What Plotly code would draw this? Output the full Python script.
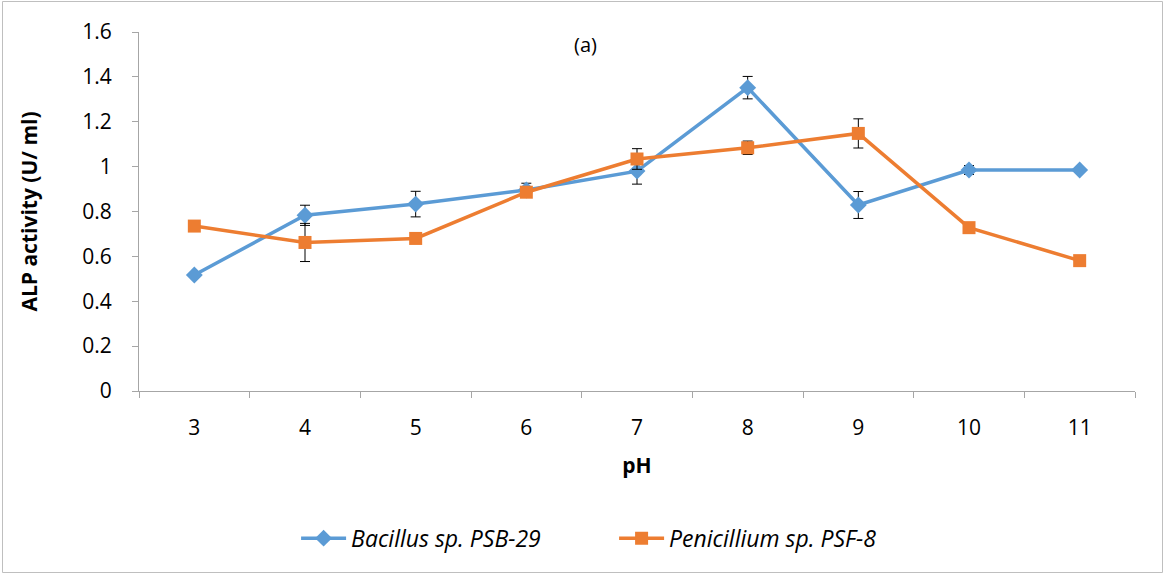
import plotly.graph_objects as go

ph = ["3", "4", "5", "6", "7", "8", "9", "10", "11"]
bacillus = [0.517, 0.783, 0.833, 0.896, 0.980, 1.352, 0.829, 0.985, 0.985]
bacillus_err = [0.010, 0.045, 0.057, 0.030, 0.058, 0.050, 0.060, 0.020, 0.010]
penicillium = [0.735, 0.662, 0.680, 0.886, 1.034, 1.084, 1.148, 0.728, 0.581]
penicillium_err = [0.000, 0.085, 0.000, 0.000, 0.046, 0.030, 0.065, 0.000, 0.000]
y_ticks = [0, 0.2, 0.4, 0.6, 0.8, 1, 1.2, 1.4, 1.6]
y_tick_text = ["0", "0.2", "0.4", "0.6", "0.8", "1", "1.2", "1.4", "1.6"]

FONT = "Open Sans"
FS = 21

fig = go.Figure()
fig.add_trace(go.Scatter(
    x=ph, y=bacillus, name="<i>Bacillus sp. PSB-29</i>", mode="lines+markers",
    line=dict(color="#5B9BD5", width=3.5),
    marker=dict(symbol="diamond", size=13, color="#5B9BD5"),
    error_y=dict(type="data", array=bacillus_err, color="black", thickness=1, width=5),
))
fig.add_trace(go.Scatter(
    x=ph, y=penicillium, name="<i>Penicillium sp. PSF-8</i>", mode="lines+markers",
    line=dict(color="#ED7D31", width=3.5),
    marker=dict(symbol="square", size=13, color="#ED7D31"),
    error_y=dict(type="data", array=penicillium_err, color="black", thickness=1, width=5),
))

fig.update_layout(
    width=1165, height=575,
    margin=dict(l=139, r=30, t=32, b=184),
    paper_bgcolor="white", plot_bgcolor="white",
    font=dict(family=FONT, size=FS, color="black"),
    showlegend=True,
    legend=dict(orientation="h", x=0.477, xanchor="center", y=-0.41, yanchor="middle",
                font=dict(family=FONT, size=23, color="black"), itemwidth=45,
                entrywidth=258, tracegroupgap=0, bgcolor="rgba(0,0,0,0)"),
    annotations=[dict(text="(a)", x=0.448, xref="paper", y=1.6, yref="y", yshift=-12,
                      showarrow=False, font=dict(family=FONT, size=FS - 1, color="black"))],
    shapes=[dict(type="rect", xref="paper", yref="paper",
                 x0=-136.5 / 996, x1=1 + 27.5 / 996, y0=-181.5 / 359, y1=1 + 30.5 / 359,
                 line=dict(color="#BFBFBF", width=1))],
)
fig.update_xaxes(
    type="category", range=[-0.5, 8.5], tickson="boundaries", ticks="outside",
    ticklen=6, tickcolor="#A6A6A6", showline=True, linecolor="#A6A6A6", linewidth=1,
    showgrid=False, zeroline=False, ticklabelstandoff=18,
    title=dict(text="<b>pH</b>", font=dict(family=FONT, size=FS), standoff=18),
    tickfont=dict(family=FONT, size=FS),
)
fig.update_yaxes(
    range=[0, 1.6], tickvals=y_ticks, ticktext=y_tick_text, ticks="outside",
    ticklen=6, tickcolor="#A6A6A6", showline=True, linecolor="#A6A6A6", linewidth=1,
    showgrid=False, zeroline=False, ticklabelstandoff=16,
    title=dict(text="<b>ALP activity (U/ ml)</b>", font=dict(family=FONT, size=FS), standoff=38),
    tickfont=dict(family=FONT, size=FS),
)

fig.write_html("out.html")
